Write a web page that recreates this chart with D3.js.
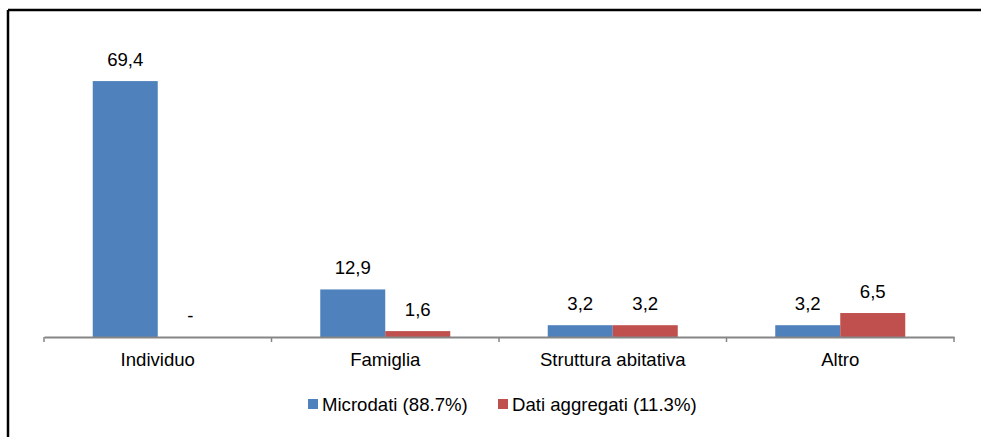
<!DOCTYPE html>
<html><head><meta charset="utf-8">
<script src="https://cdn.jsdelivr.net/npm/d3@7"></script>
<style>body{margin:0;background:#fff}svg{display:block}text{font-family:"Liberation Sans",Arial,sans-serif;fill:#000}</style>
</head><body>
<script>
const categories = ["Individuo","Famiglia","Struttura abitativa","Altro"];
const seriesNames = ["Microdati (88.7%)","Dati aggregati (11.3%)"];
const microdati = [69.4,12.9,3.2,3.2];
const aggregati = [0,1.6,3.2,6.5];
const colors = ["#4F81BD","#C0504D"];

const W=981,H=437,FS=18.6;
const svg=d3.select("body").append("svg").attr("width",W).attr("height",H);
// frame (partially cropped)
svg.append("line").attr("x1",8).attr("x2",W).attr("y1",10).attr("y2",10).attr("stroke","#000").attr("stroke-width",2.5);
svg.append("line").attr("x1",8).attr("x2",8).attr("y1",10).attr("y2",H).attr("stroke","#000").attr("stroke-width",2.5);

const x0=d3.scaleBand().domain(categories).range([44,954]).padding(0);
const x1=d3.scaleBand().domain([0,1]).range([0,x0.bandwidth()]).paddingInner(0).paddingOuter(0.75);
const y=d3.scaleLinear().domain([0,80]).range([337,42]);
const fmt=v=> v===0?"-":d3.format(".1f")(v).replace(".",",");

const data=categories.map((c,i)=>({c,vals:[microdati[i],aggregati[i]]}));
const g=svg.append("g");
data.forEach(d=>{
  d.vals.forEach((v,s)=>{
    const bx=x0(d.c)+x1(s);
    g.append("rect").attr("x",bx).attr("y",y(v)).attr("width",x1.bandwidth()).attr("height",y(0)-y(v)).attr("fill",colors[s]);
    g.append("text").attr("x",bx+x1.bandwidth()/2).attr("y",y(v)-15).attr("text-anchor","middle").attr("font-size",FS).text(fmt(v));
  });
});

// axis
const ax=svg.append("g").attr("transform","translate(0,337)")
  .call(d3.axisBottom(x0).tickSize(0).tickPadding(16).tickSizeOuter(0));
ax.select(".domain").attr("stroke","#868686").attr("stroke-width",2);
ax.selectAll("text").attr("font-size",FS).attr("font-family","Liberation Sans, Arial, sans-serif").attr("fill","#000");
const bounds=categories.map(c=>x0(c)).concat([x0.range()[1]]);
ax.selectAll("line.sep").data(bounds).join("line").attr("class","sep")
  .attr("x1",d=>d).attr("x2",d=>d).attr("y1",0).attr("y2",5).attr("stroke","#868686").attr("stroke-width",1.5);

// legend
const legX=[308,498];
seriesNames.forEach((n,i)=>{
  svg.append("rect").attr("x",legX[i]).attr("y",399).attr("width",10).attr("height",10).attr("fill",colors[i]);
  svg.append("text").attr("x",legX[i]+14).attr("y",411).attr("font-size",FS).text(n);
});
</script>
</body></html>
